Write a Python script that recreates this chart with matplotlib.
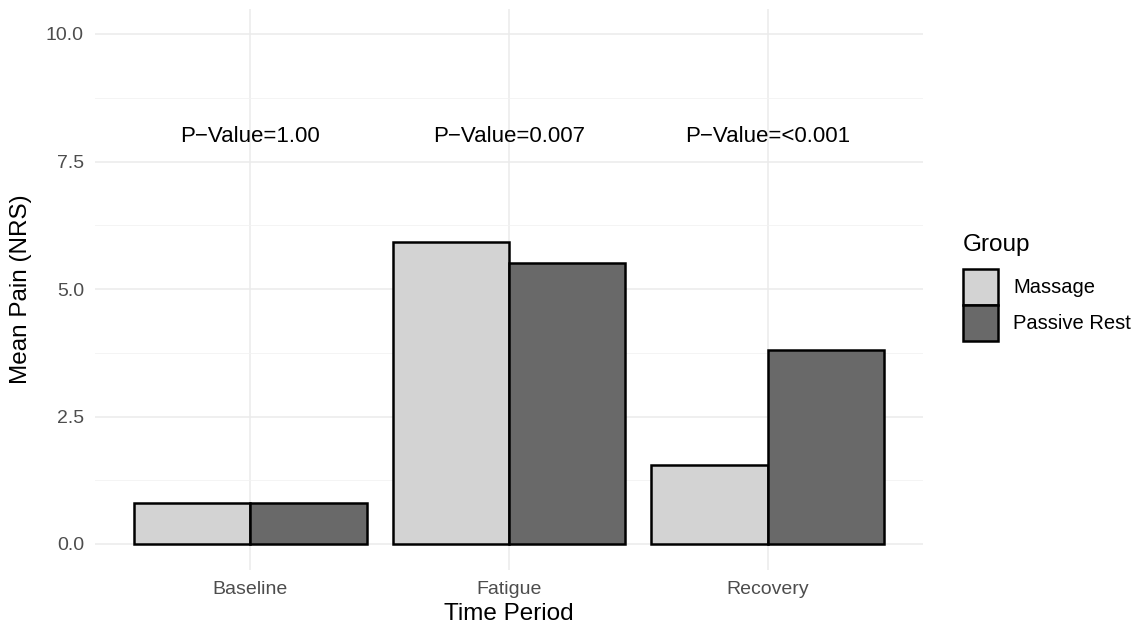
import numpy as np
import matplotlib.pyplot as plt
from matplotlib.patches import Patch

plt.rcParams['font.family'] = ['Liberation Sans', 'DejaVu Sans']

periods = ['Baseline', 'Fatigue', 'Recovery']
groups = ['Massage', 'Passive Rest']
massage = [0.80, 5.92, 1.55]
passive_rest = [0.80, 5.51, 3.80]
p_labels = ['P\u2212Value=1.00', 'P\u2212Value=0.007', 'P\u2212Value=<0.001']
colors = ['#D3D3D3', '#696969']
yticks = [0.0, 2.5, 5.0, 7.5, 10.0]

fig = plt.figure(figsize=(11.41, 6.31), dpi=100)
ax = fig.add_axes([95 / 1141, 1 - 569.5 / 631, (923 - 95) / 1141, (569.5 - 8.5) / 631])

x = np.arange(1, len(periods) + 1)
w = 0.45
for vals, off, col, name in zip([massage, passive_rest], [-w / 2, w / 2], colors, groups):
    ax.bar(x + off, vals, width=w, color=col, edgecolor='black', linewidth=1.8,
           label=name, zorder=3)

for xi, lab in zip(x, p_labels):
    ax.text(xi, 8.0, lab, ha='center', va='center', fontsize=16, color='black', zorder=4)

ax.set_xlim(0.4, 3.6)
ax.set_ylim(-0.5, 10.5)
ax.set_xticks(x)
ax.set_xticklabels(periods)
ax.set_yticks(yticks)
ax.set_yticklabels([f'{t:.1f}' for t in yticks])
ax.set_yticks([1.25, 3.75, 6.25, 8.75], minor=True)
ax.tick_params(axis='both', which='both', length=0, labelsize=14, labelcolor='#4D4D4D')
ax.tick_params(axis='x', pad=8)
ax.tick_params(axis='y', pad=8)
ax.grid(which='major', color='#EBEBEB', linewidth=1.1, zorder=0)
ax.grid(which='minor', axis='y', color='#F2F2F2', linewidth=0.6, zorder=0)
ax.set_axisbelow(True)
for s in ax.spines.values():
    s.set_visible(False)

ax.set_xlabel('Time Period', fontsize=17.5, labelpad=4)
ax.set_ylabel('Mean Pain (NRS)', fontsize=17.5, labelpad=10)

handles = [Patch(facecolor=c, edgecolor='black', linewidth=1.8) for c in colors]
leg = fig.legend(handles, groups, title='Group', loc='upper left',
                 bbox_to_anchor=(953 / 1141, 1 - 224 / 631), frameon=False,
                 fontsize=14.5, title_fontsize=17.5, handlelength=1.75,
                 handleheight=2.39, labelspacing=0.0, handletextpad=0.75,
                 borderpad=0, alignment='left')
leg._legend_box.sep = 9

fig.savefig('out.png', dpi=100, facecolor='white')
